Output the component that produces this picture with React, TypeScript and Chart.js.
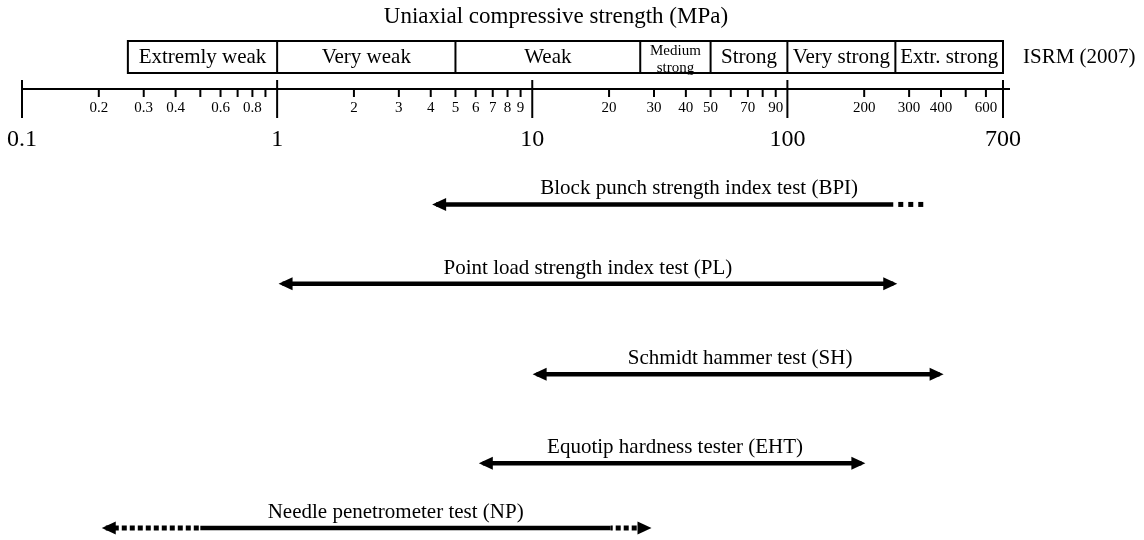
import React, { useEffect, useRef } from "react";
import { Chart, registerables } from "chart.js";

Chart.register(...registerables);

const SERIF = '"Liberation Serif", "Times New Roman", serif';

// ---- Axis (UCS, MPa, log scale) ----
const axisMin = 0.1;
const axisMax = 700;
const majorTicks = [0.1, 1, 10, 100, 700];
const majorLabels = ["0.1", "1", "10", "100", "700"];
const minorTicks = [
  0.2, 0.3, 0.4, 0.5, 0.6, 0.7, 0.8, 0.9,
  2, 3, 4, 5, 6, 7, 8, 9,
  20, 30, 40, 50, 60, 70, 80, 90,
  200, 300, 400, 500, 600,
];
const minorLabelled = [
  0.2, 0.3, 0.4, 0.6, 0.8,
  2, 3, 4, 5, 6, 7, 8, 9,
  20, 30, 40, 50, 70, 90,
  200, 300, 400, 600,
];

// ---- ISRM (2007) strength classes ----
const classNames = ["Extremly weak", "Very weak", "Weak", "Medium\nstrong", "Strong", "Very strong", "Extr. strong"];
const classBounds = [0.26, 1, 5, 26.5, 50, 100, 265, 700];

// ---- Test method ranges ----
const testNames = [
  "Block punch strength index test (BPI)",
  "Point load strength index test (PL)",
  "Schmidt hammer test (SH)",
  "Equotip hardness tester (EHT)",
  "Needle penetrometer test (NP)",
];
const laneLevel = [1, 1.98, 3.1, 4.2, 5];
const solidFrom = [4.2, 1.05, 10.4, 6.4, 0.5];
const solidTo = [260, 260, 395, 195, 20.3];
const dottedFrom: (number | null)[] = [null, null, null, null, 0.213];
const dottedTo: (number | null)[] = [350, null, null, null, 28.3];
const headLeft = [true, true, true, true, true];
const headRight = [false, true, true, true, true];

export default function App() {
  const ref = useRef<HTMLCanvasElement>(null);

  useEffect(() => {
    const dashFor = (i: number) => (i === 0 ? [5, 5] : [5, 3]);
    const labelShift = [20, 0, 2, 3, 19];
    const datasets: any[] = [];
    testNames.forEach((name, i) => {
      const y = laneLevel[i];
      datasets.push({
        label: name,
        data: [{ x: solidFrom[i], y }, { x: solidTo[i], y }],
        borderColor: "#000",
        borderWidth: 4.5,
        pointRadius: 0,
        borderCapStyle: "butt",
      });
      if (dottedFrom[i] != null) {
        datasets.push({
          label: name + " (ext. low)",
          data: [{ x: dottedFrom[i], y }, { x: solidFrom[i], y }],
          borderColor: "#000",
          borderWidth: 5,
          borderDash: dashFor(i),
          borderDashOffset: 0,
          pointRadius: 0,
          borderCapStyle: "butt",
        });
      }
      if (dottedTo[i] != null) {
        datasets.push({
          label: name + " (ext. high)",
          data: [{ x: solidTo[i], y }, { x: dottedTo[i], y }],
          borderColor: "#000",
          borderWidth: 5,
          borderDash: dashFor(i),
          borderDashOffset: i === 0 ? 5 : 3,
          pointRadius: 0,
          borderCapStyle: "butt",
        });
      }
    });

    const overlay = {
      id: "overlay",
      afterDatasetsDraw(chart: any) {
        const ctx = chart.ctx as CanvasRenderingContext2D;
        const xs = chart.scales.x;
        const ys = chart.scales.y;
        const X = (v: number) => xs.getPixelForValue(v);
        ctx.save();
        ctx.fillStyle = "#000";
        ctx.strokeStyle = "#000";

        // Title
        ctx.font = `23px ${SERIF}`;
        ctx.textAlign = "center";
        ctx.textBaseline = "alphabetic";
        ctx.fillText("Uniaxial compressive strength (MPa)", 556, 23);

        // Class boxes
        const boxTop = 41;
        const boxBot = 73;
        classNames.forEach((n, i) => {
          const cx = (X(classBounds[i]) + X(classBounds[i + 1])) / 2;
          const lines = n.split("\n");
          if (lines.length > 1) {
            ctx.font = `15px ${SERIF}`;
            ctx.fillText(lines[0], cx, 55);
            ctx.fillText(lines[1], cx, 72);
          } else {
            ctx.font = `21px ${SERIF}`;
            ctx.fillText(n, cx, 63);
          }
        });
        ctx.lineWidth = 2;
        ctx.strokeRect(X(classBounds[0]), boxTop, X(classBounds[classBounds.length - 1]) - X(classBounds[0]), boxBot - boxTop);
        for (let i = 1; i < classBounds.length - 1; i++) {
          ctx.beginPath();
          ctx.moveTo(X(classBounds[i]), boxTop);
          ctx.lineTo(X(classBounds[i]), boxBot);
          ctx.stroke();
        }
        ctx.font = `21px ${SERIF}`;
        ctx.textAlign = "left";
        ctx.fillText("ISRM (2007)", 1023, 63);

        // Axis ruler
        const axY = 89;
        ctx.lineWidth = 2;
        ctx.beginPath();
        ctx.moveTo(X(axisMin), axY);
        ctx.lineTo(X(axisMax) + 7, axY);
        ctx.stroke();
        majorTicks.forEach((t) => {
          ctx.beginPath();
          ctx.moveTo(X(t), 80);
          ctx.lineTo(X(t), 118);
          ctx.stroke();
        });
        minorTicks.forEach((t) => {
          ctx.beginPath();
          ctx.moveTo(X(t), axY);
          ctx.lineTo(X(t), 97);
          ctx.stroke();
        });
        ctx.textAlign = "center";
        ctx.font = `15px ${SERIF}`;
        minorLabelled.forEach((t) => {
          ctx.fillText(String(t), X(t), 112);
        });
        ctx.font = `24px ${SERIF}`;
        majorTicks.forEach((t, i) => {
          ctx.fillText(majorLabels[i], X(t), 146);
        });

        // Arrowheads and labels
        const headLen = 14;
        const headHalf = 6.5;
        const tipOff = 4;
        testNames.forEach((name, i) => {
          const py = ys.getPixelForValue(laneLevel[i]);
          const lo = dottedFrom[i] != null ? (dottedFrom[i] as number) : solidFrom[i];
          const hi = dottedTo[i] != null ? (dottedTo[i] as number) : solidTo[i];
          const xl = X(lo);
          const xr = X(hi);
          let leftEdge = xl;
          let rightEdge = xr;
          if (headLeft[i]) {
            const tip = xl - tipOff;
            leftEdge = tip;
            ctx.beginPath();
            ctx.moveTo(tip, py);
            ctx.lineTo(tip + headLen, py - headHalf);
            ctx.lineTo(tip + headLen, py + headHalf);
            ctx.closePath();
            ctx.fill();
          }
          if (headRight[i]) {
            const tip = xr + tipOff;
            rightEdge = tip;
            ctx.beginPath();
            ctx.moveTo(tip, py);
            ctx.lineTo(tip - headLen, py - headHalf);
            ctx.lineTo(tip - headLen, py + headHalf);
            ctx.closePath();
            ctx.fill();
          }
          ctx.font = `21px ${SERIF}`;
          ctx.textAlign = "center";
          ctx.fillText(name, (leftEdge + rightEdge) / 2 + labelShift[i], py - 10);
        });
        ctx.restore();
      },
    };

    const chart = new Chart(ref.current as HTMLCanvasElement, {
      type: "line",
      data: { datasets },
      options: {
        responsive: false,
        animation: false,
        devicePixelRatio: 1,
        events: [],
        layout: { padding: { left: 22, right: 141, top: 164, bottom: 4 } },
        scales: {
          x: { type: "logarithmic", min: axisMin, max: axisMax, display: false, bounds: "data" },
          y: { type: "linear", min: 0.5, max: 5.1, reverse: true, display: false },
        },
        plugins: {
          legend: { display: false },
          tooltip: { enabled: false },
          title: { display: false },
        },
      } as any,
      plugins: [overlay as any],
    });
    return () => chart.destroy();
  }, []);

  return (
    <div style={{ position: "absolute", left: 0, top: 0, width: 1144, height: 540, background: "#fff" }}>
      <canvas ref={ref} width={1144} height={540} style={{ display: "block" }} />
    </div>
  );
}
